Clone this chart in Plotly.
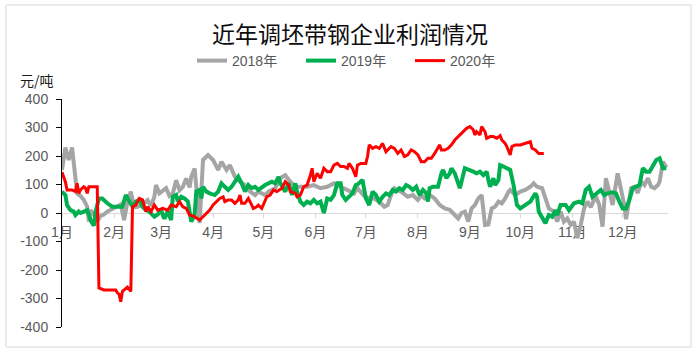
import plotly.graph_objects as go

# ---------------- data ----------------
month_labels = ["1月", "2月", "3月", "4月", "5月", "6月", "7月", "8月", "9月", "10月", "11月", "12月"]
month_start_days = [0, 31, 59, 90, 120, 151, 181, 212, 243, 273, 304, 334]

y_tick_vals = [-400, -300, -200, -100, 0, 100, 200, 300, 400]
y_tick_text = ["-400", "-300", "-200", "-100", "0", "100", "200", "300", "400"]

series_names = ["2018年", "2019年", "2020年"]

# day of year (0 = 1月1日) and profit (元/吨)
days_2018 = [0, 2, 4, 6, 9, 11, 13, 15, 16, 17, 19, 21, 23, 25, 27, 30, 33, 35, 37, 39,
             41, 43, 45, 48, 51, 53, 55, 56, 58, 60, 62, 64, 66, 68, 70, 72, 74, 76, 77, 79,
             81, 82, 84, 87, 90, 92, 93, 95, 98, 100, 103, 106, 109, 112, 115, 117, 121, 123, 127, 130,
             133, 136, 139, 142, 146, 150, 154, 158, 162, 166, 170, 174, 176, 180, 183, 186, 190, 192, 194, 196,
             198, 202, 206, 209, 212, 214, 216, 219, 222, 225, 228, 231, 234, 236, 238, 240, 242, 244, 246, 248,
             250, 252, 254, 256, 258, 260, 262, 264, 266, 267, 270, 273, 276, 279, 281, 283, 286, 288, 290, 293,
             295, 297, 299, 301, 303, 305, 307, 309, 311, 313, 315, 318, 320, 322, 324, 326, 328, 331, 333, 335,
             336, 339, 341, 343, 345, 347, 349, 351, 353, 355, 356, 358, 360]
profit_2018 = [151, 230, 186, 230, 69, 60, 46, 22, -30, 10, -5, -30, -10, -5, 5, 15, 22, 30, -25, 40,
               75, 20, 22, 30, 45, 25, 56, 98, 69, 80, 87, 60, 69, 115, 80, 92, 121, 90, 127, 156,
               0, -35, 186, 203, 186, 157, 151, 180, 151, 168, 127, 110, 98, 75, 63, 75, 63, 75, 87, 122,
               133, 110, 92, 92, 92, 98, 87, 92, 104, 92, 81, 69, 87, 60, 51, 51, 34, 22, 28, 63,
               87, 75, 57, 63, 46, 63, 51, 63, 51, 28, 16, 11, -7, -19, 0, 5, -30, 16, 28, 51,
               63, -42, -40, 16, 22, 40, 34, 51, 75, 81, 63, 75, 81, 92, 104, 92, 87, 51, 16, 5,
               -30, 5, -30, -19, -42, -30, -88, -42, 16, 40, 20, 60, 30, -48, 122, 75, 28, 139, 87, 28,
               -22, 87, 92, 70, 110, 98, 122, 92, 87, 98, 110, 180, 160]

days_2019 = [0, 2, 3, 5, 7, 8, 10, 11, 13, 15, 16, 17, 19, 20, 22, 24, 27, 30, 33, 36,
             38, 40, 42, 44, 46, 48, 50, 52, 55, 57, 59, 61, 63, 65, 66, 68, 69, 71, 73, 75,
             77, 79, 80, 82, 83, 84, 86, 88, 91, 93, 95, 97, 99, 101, 103, 105, 107, 109, 111, 113,
             115, 117, 121, 125, 127, 129, 130, 133, 135, 137, 139, 140, 142, 144, 146, 148, 150, 152, 154, 156,
             158, 160, 162, 164, 166, 167, 169, 171, 173, 175, 176, 179, 181, 183, 185, 187, 189, 191, 193, 195,
             197, 199, 201, 203, 205, 207, 209, 211, 213, 215, 217, 218, 219, 221, 224, 226, 227, 229, 231, 232,
             234, 236, 237, 240, 243, 245, 247, 249, 251, 253, 254, 255, 257, 258, 260, 261, 263, 265, 267, 269,
             271, 273, 276, 279, 282, 283, 284, 286, 288, 290, 292, 294, 295, 297, 300, 302, 305, 308, 310, 312,
             314, 316, 319, 321, 323, 325, 328, 330, 332, 334, 336, 338, 340, 342, 344, 346, 348, 350, 352, 354,
             356, 358, 360]
profit_2019 = [75, 63, 28, 10, 5, -7, 5, 0, 5, 10, -5, -25, -45, 5, 51, 51, 34, 22, 22, 22,
               63, 40, 22, 40, 46, 22, 10, 5, -13, -5, 10, -20, 5, -25, 57, 63, 40, 57, 51, 40,
               -30, -7, 75, 81, 51, 92, 75, 69, 63, 75, 104, 92, 81, 92, 110, 127, 104, 75, 98, 87,
               92, 81, 98, 110, 104, 127, 105, 75, 105, 63, 104, 75, 40, 28, 40, 34, 46, 34, 40, 0,
               51, 46, 63, 104, 104, 63, 46, 57, 69, 98, 100, 116, 51, 28, 75, 63, 40, 57, 69, 63,
               81, 75, 87, 81, 98, 92, 81, 92, 63, 81, 69, 40, 87, 92, 92, 139, 151, 122, 139, 157,
               139, 104, 87, 157, 151, 145, 139, 145, 133, 145, 116, 92, 122, 98, 116, 168, 163, 157, 151, 98,
               28, 16, 28, 40, 69, 57, 5, -19, -36, -7, -13, 10, -7, 28, 28, 10, 34, 40, 34, 81,
               92, 57, 69, 81, 63, 69, 73, 69, 40, 16, 16, 46, 87, 92, 98, 157, 145, 145, 168, 186,
               192, 157, 157]

days_2020 = [0, 2, 3, 6, 8, 9, 10, 11, 13, 14, 15, 16, 21, 22, 25, 29, 32, 33, 34, 35,
             36, 39, 40, 41, 42, 44, 45, 46, 48, 50, 51, 53, 55, 57, 60, 63, 65, 68, 70, 72,
             74, 76, 79, 82, 84, 86, 88, 90, 92, 94, 96, 97, 99, 101, 103, 105, 106, 107, 109, 111,
             112, 114, 116, 117, 119, 120, 122, 124, 126, 128, 131, 133, 135, 136, 139, 140, 142, 144, 146, 148,
             149, 150, 152, 154, 156, 158, 160, 162, 164, 166, 168, 170, 171, 173, 175, 176, 178, 181, 182, 183,
             185, 187, 189, 191, 193, 195, 196, 198, 200, 202, 204, 206, 208, 210, 212, 214, 216, 218, 220, 222,
             224, 225, 226, 228, 230, 232, 234, 236, 238, 241, 243, 245, 246, 247, 249, 250, 252, 253, 255, 257,
             259, 261, 262, 264, 265, 266, 267, 268, 270, 273, 276, 279, 280, 282, 284, 286, 287]
profit_2020 = [143, 110, 81, 81, 75, 104, 69, 81, 92, 87, 69, 92, 92, -263, -270, -270, -270, -280, -285, -311,
               -275, -260, -270, -275, 22, 28, 40, 51, 46, 5, 22, 5, 28, 10, 16, 10, 28, 22, 40, 22,
               16, -7, -13, -25, -13, -1, 10, 28, 40, 51, 57, 40, 46, 46, 34, 46, 63, 34, 34, 51,
               40, 16, 22, 28, 16, 28, 57, 63, 81, 75, 87, 110, 98, 75, 69, 57, 63, 92, 98, 133,
               157, 110, 139, 122, 157, 145, 145, 168, 174, 163, 163, 157, 174, 157, 127, 168, 174, 174, 198, 239,
               227, 233, 227, 244, 215, 227, 233, 227, 209, 221, 198, 204, 221, 215, 204, 180, 180, 192, 192, 209,
               227, 239, 221, 221, 227, 239, 256, 268, 280, 297, 303, 292, 274, 285, 274, 303, 285, 262, 268, 268,
               262, 271, 256, 244, 233, 221, 204, 233, 239, 239, 244, 250, 227, 221, 209, 209, 209]

series_days = [days_2018, days_2019, days_2020]
series_values = [profit_2018, profit_2019, profit_2020]
series_colors = ["#A5A5A5", "#00B050", "#FF0000"]
series_widths = [4, 4, 3]

# ---------------- figure ----------------
W, H = 700, 356
ML, MR, MT, MB = 62, 32, 99, 29

fig = go.Figure()
for name, d, v, c, w in zip(series_names, series_days, series_values, series_colors, series_widths):
    fig.add_trace(go.Scatter(x=d, y=v, mode="lines", name=name,
                             line=dict(color=c, width=w, shape="linear"),
                             hoverinfo="skip"))

base_font = "Liberation Sans, Noto Sans CJK SC, sans-serif"
cjk_font = "Noto Sans CJK SC, sans-serif"

fig.update_layout(
    width=W, height=H,
    margin=dict(l=ML, r=MR, t=MT, b=MB, pad=0),
    paper_bgcolor="white", plot_bgcolor="white",
    font=dict(family=base_font, size=14, color="#595959"),
    title=dict(text="近年调坯带钢企业利润情况", x=0.5, xanchor="center",
               y=1 - 35 / H, yanchor="middle", yref="container",
               font=dict(family=cjk_font, size=23, color="#0d0d0d")),
    showlegend=True,
    legend=dict(orientation="h", xref="container", yref="container",
                x=197 / W - 5 / W, xanchor="left", y=1 - 61 / H, yanchor="middle",
                font=dict(family=base_font, size=14, color="#595959"),
                bgcolor="rgba(0,0,0,0)", itemwidth=30,
                entrywidth=64, entrywidthmode="pixels"),
    xaxis=dict(range=[0, 361], tickmode="array", tickvals=month_start_days, ticktext=month_labels,
               showgrid=False, zeroline=False, showline=True, linecolor="#D9D9D9", linewidth=1,
               ticks="outside", ticklen=4, tickcolor="#D9D9D9", anchor="free", position=0.5,
               layer="below traces", ticklabelstandoff=2,
               tickfont=dict(family=base_font, size=14, color="#595959")),
    yaxis=dict(range=[-400, 400], tickmode="array", tickvals=y_tick_vals, ticktext=y_tick_text,
               showgrid=False, zeroline=False, showline=True, linecolor="#000000", linewidth=1,
               ticks="outside", ticklen=5, tickcolor="#000000", ticklabelstandoff=5,
               tickfont=dict(family=base_font, size=14, color="#595959")),
    hovermode=False,
)

# y-axis unit label
fig.add_annotation(text="元/吨", xref="paper", yref="paper",
                   x=(37 - ML) / (W - ML - MR), y=(H - MB - 80) / (H - MT - MB),
                   xanchor="center", yanchor="middle", showarrow=False,
                   font=dict(family=cjk_font, size=14, color="#1a1a1a"))

# chart-area border
pw, ph = W - ML - MR, H - MT - MB
fig.add_shape(type="rect", xref="paper", yref="paper",
              x0=(6 - ML) / pw, x1=(691 - ML) / pw,
              y0=(H - MB - 347) / ph, y1=(H - MB - 5) / ph,
              line=dict(color="#D9D9D9", width=1), fillcolor="rgba(0,0,0,0)", layer="below")

fig.write_html("out.html",
               config={"displayModeBar": False, "staticPlot": True},
               post_script="document.body.style.margin='0';document.body.style.overflow='hidden';")
